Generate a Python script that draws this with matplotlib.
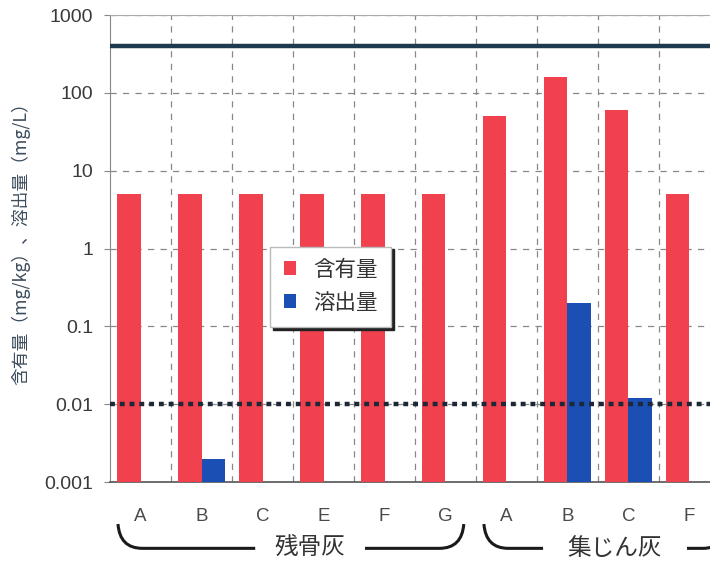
import numpy as np
import matplotlib
matplotlib.use("Agg")
from matplotlib import pyplot as plt
from matplotlib import transforms as mtransforms
from matplotlib.path import Path
from matplotlib.patches import PathPatch

plt.rcParams['font.family'] = ['Liberation Sans', 'Noto Sans CJK JP']

# samples: residual bone ash (A-G) and dust ash (A-F)
samples = ["A", "B", "C", "E", "F", "G", "A", "B", "C", "F"]
content = [5, 5, 5, 5, 5, 5, 50, 160, 60, 5]              # mg/kg
elution = [None, 0.002, None, None, None, None, None, 0.2, 0.012, None]  # mg/L
content_limit = 400
elution_limit = 0.01

groups = [("残骨灰", 0, 5), ("集じん灰", 6, 9)]

RED = "#f1404e"
BLUE = "#1b4fb4"

fig = plt.figure(figsize=(7.1, 5.62), dpi=100)
ax = fig.add_axes([0.155, 0.1423, 0.859, 0.831])

x = np.arange(len(samples))
w = 0.38
ax.bar(x - w / 2, content, width=w, color=RED, label="含有量", zorder=3)
ex = [i for i, v in enumerate(elution) if v is not None]
ev = [elution[i] for i in ex]
ax.bar(np.array(ex) + w / 2, ev, width=w, color=BLUE, label="溶出量", zorder=3)

ax.set_yscale("log")
ax.set_ylim(0.001, 1000)
ax.set_xlim(-0.5, len(samples) - 0.5)

ax.axhline(content_limit, color="#1e3b4e", lw=3.2, zorder=4)
ax.axhline(elution_limit, color="#1c2835", lw=3.2, ls=(0, (1.1, 1.1)), zorder=4)

yt = [0.001, 0.01, 0.1, 1, 10, 100, 1000]
ax.set_yticks(yt)
ax.set_yticklabels(["0.001", "0.01", "0.1", "1", "10", "100", "1000"])
ax.yaxis.set_minor_locator(matplotlib.ticker.NullLocator())
ax.tick_params(axis="y", labelsize=14, colors="#888888", labelcolor="#3a3a3a",
               length=4, width=0.8, pad=8)

ax.set_xticks(x)
ax.set_xticklabels(samples)
ax.set_xticks(x[:-1] + 0.5, minor=True)
ax.tick_params(axis="x", which="major", length=0, labelsize=13.5,
               labelcolor="#4a4a4a", pad=19)
ax.tick_params(axis="x", which="minor", length=0)

ax.grid(axis="y", which="major", color="#888888", ls=(0, (5, 5)), lw=0.9, zorder=1)
ax.grid(axis="x", which="minor", color="#888888", ls=(0, (5, 5)), lw=0.9, zorder=1)

for side in ["top", "right"]:
    ax.spines[side].set_color("#aaaaaa")
ax.spines["left"].set_color("#888888")
ax.spines["bottom"].set_color("#555555")
ax.spines["bottom"].set_linewidth(1.2)

ax.set_ylabel("含有量（mg/kg）、溶出量（mg/L）", fontsize=12.8, color="#3d4d5c",
              family=['Noto Sans CJK JP'])
ax.yaxis.set_label_coords(-0.13, 0.52)

leg = ax.legend(loc="center", bbox_to_anchor=(0.362, 0.418), fontsize=15.5,
                handlelength=0.6, handleheight=0.6, handletextpad=0.8,
                labelspacing=0.55, borderpad=0.62, borderaxespad=0,
                fancybox=False, edgecolor="#bbbbbb", framealpha=1,
                shadow={'color': '#222222', 'alpha': 1.0})
leg.set_zorder(6)
for t in leg.get_texts():
    t.set_color("#333333")

# curved brackets under the sample labels
trans = mtransforms.blended_transform_factory(ax.transData, ax.transAxes)
y_top, y_bot = -0.09, -0.142
for name, i0, i1 in groups:
    left = i0 - 0.37
    right = i1 + 0.3 if i1 < len(samples) - 1 else i1 + 0.62
    mid = (i0 + i1) / 2.0 + 0.28
    gap = 0.28 * len(name) + 0.06
    verts = [(left, y_top), (left + 0.03, y_bot), (left + 0.4, y_bot),
             (mid - gap, y_bot)]
    codes = [Path.MOVETO, Path.CURVE3, Path.CURVE3, Path.LINETO]
    ax.add_patch(PathPatch(Path(verts, codes), transform=trans, fill=False,
                           lw=2.2, color="#1a1a1a", clip_on=False))
    verts = [(mid + gap, y_bot), (right - 0.4, y_bot), (right - 0.03, y_bot),
             (right, y_top)]
    codes = [Path.MOVETO, Path.LINETO, Path.CURVE3, Path.CURVE3]
    ax.add_patch(PathPatch(Path(verts, codes), transform=trans, fill=False,
                           lw=2.2, color="#1a1a1a", clip_on=False))
    ax.text(mid, y_bot, name, transform=trans, ha="center", va="center",
            fontsize=17, color="#333333", family=['Noto Sans CJK JP'])

fig.savefig("out.png", dpi=100)
